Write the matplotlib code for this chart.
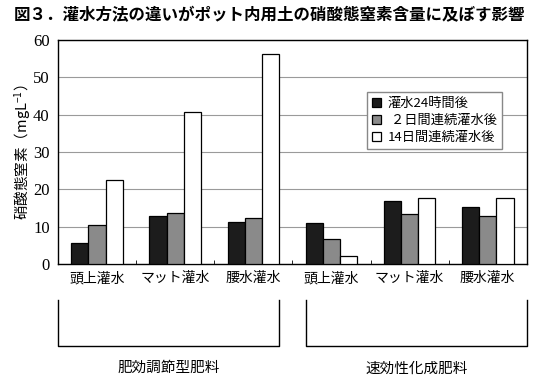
import matplotlib.pyplot as plt
import numpy as np

plt.rcParams['font.family'] = ['Noto Sans CJK JP', 'DejaVu Sans']

# data
methods = ['頭上灌水', 'マット灌水', '腰水灌水', '頭上灌水', 'マット灌水', '腰水灌水']
fertilizers = ['肥効調節型肥料', '速効性化成肥料']
series_names = ['灌水24時間後', ' ２日間連続灌水後', '14日間連続灌水後']
after_24h = [5.6, 12.9, 11.2, 11.1, 16.9, 15.3]
after_2d = [10.4, 13.6, 12.4, 6.7, 13.3, 13.0]
after_14d = [22.5, 40.7, 56.3, 2.2, 17.7, 17.7]
colors = ['#1c1c1c', '#8a8a8a', '#ffffff']

fig = plt.figure(figsize=(5.42, 3.85), dpi=100)
ax = fig.add_axes([0.107, 0.314, 0.865, 0.582])

x = np.arange(len(methods))
w = 0.22
for i, (vals, name) in enumerate(zip([after_24h, after_2d, after_14d], series_names)):
    ax.bar(x + (i - 1) * w, vals, width=w, color=colors[i], edgecolor='black',
           linewidth=0.9, label=name, zorder=3)

ax.set_xlim(-0.5, 5.5)
ax.set_ylim(0, 60)
ax.set_yticks(range(0, 61, 10))
ax.set_yticklabels([str(v) for v in range(0, 61, 10)], family='Liberation Serif', fontsize=12)
ax.yaxis.grid(True, color='#9a9a9a', linewidth=0.8, zorder=0)
ax.tick_params(axis='y', length=0, pad=6)
ax.set_xticks(x)
ax.set_xticklabels(methods, fontsize=10)
ax.tick_params(axis='x', length=0, pad=5)
ax.set_xticks(np.arange(0.5, 5.5, 1), minor=True)
ax.tick_params(axis='x', which='minor', length=3, direction='in')
for s in ax.spines.values():
    s.set_linewidth(1.0)

ax.set_ylabel('硝酸態窒素（mgL$\\mathregular{^{-1}}$）', fontsize=10.5, labelpad=0)

ax.legend(loc='upper right', bbox_to_anchor=(0.947, 0.768), fontsize=9.5,
          frameon=True, fancybox=False, edgecolor='#888888', framealpha=1,
          handlelength=0.7, handleheight=0.7, handletextpad=0.5,
          labelspacing=0.3, borderpad=0.4, borderaxespad=0)

# brackets grouping the fertilizer types
trans = ax.get_xaxis_transform()
spans = [(-0.5, 2 + 1.5 * w), (3 - 1.5 * w, 5.5)]
for (x0, x1), name in zip(spans, fertilizers):
    ax.plot([x0, x0, x1, x1], [-0.16, -0.366, -0.366, -0.16], color='black',
            linewidth=1.0, transform=trans, clip_on=False)
    ax.text((x0 + x1) / 2, -0.465, name, transform=trans, ha='center', va='center',
            fontsize=10.5)

title = fig.text(0.026, 0.962, '図３．灌水方法の違いがポット内用土の硝酸態窒素含量に及ぼす影響',
                 fontsize=11, fontweight='bold', va='center', ha='left')
# scale title so it spans roughly the same width as in the reference (~512 px)
fig.canvas.draw()
tw = title.get_window_extent().width
title.set_fontsize(11 * 512 / tw)

fig.savefig('out.png', dpi=100)
